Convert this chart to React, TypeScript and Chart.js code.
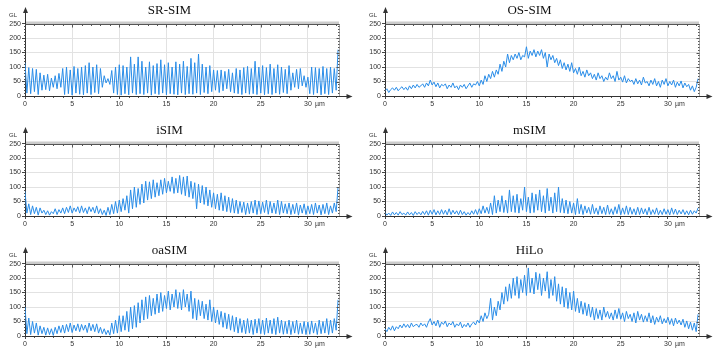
import React, { useEffect, useRef } from 'react';
import { Chart, registerables } from 'chart.js';

Chart.register(...registerables);

// Sample positions along the profile (µm), one every 0.2 µm
const POSITIONS_UM: number[] = Array.from({ length: 167 }, (_, i) => Math.round(i * 2) / 10);

const X_TICKS = [0, 5, 10, 15, 20, 25, 30];
const Y_TICKS = [0, 50, 100, 150, 200, 250];

const SR_SIM = [
  115, 10, 98, 8, 95, 15, 92, 5, 80, 20, 72,
  22, 75, 18, 62, 30, 70, 25, 78, 30, 95,
  5, 100, 8, 90, 3, 102, 10, 95, 6, 100,
  4, 105, 10, 115, 5, 100, 12, 108, 8, 95,
  30, 70, 45, 60, 40, 88, 10, 100, 5, 108,
  3, 105, 8, 100, 4, 135, 10, 110, 5, 135,
  8, 120, 5, 100, 10, 118, 3, 105, 8, 112,
  5, 125, 10, 108, 4, 115, 8, 100, 6, 118,
  4, 110, 10, 120, 5, 102, 8, 130, 6, 115,
  10, 145, 5, 110, 12, 100, 8, 105, 15, 90,
  20, 88, 12, 90, 18, 85, 25, 92, 15, 80,
  10, 95, 8, 90, 5, 98, 10, 102, 6, 95,
  8, 120, 5, 100, 10, 105, 4, 98, 8, 110,
  5, 95, 10, 108, 6, 100, 12, 92, 8, 105,
  20, 80, 30, 92, 25, 95, 35, 70, 30, 65,
  8, 100, 5, 98, 10, 95, 4, 102, 8, 95,
  5, 100, 10, 95, 20, 160,
];

const OS_SIM = [
  18, 25, 12, 22, 28, 20, 30, 18, 26, 32, 22,
  30, 20, 35, 25, 38, 28, 40, 30, 35, 42,
  30, 45, 35, 55, 38, 48, 32, 45, 28, 40,
  35, 42, 25, 38, 30, 45, 28, 35, 22, 38,
  30, 40, 25, 35, 45, 30, 42, 38, 50, 35,
  55, 40, 70, 50, 75, 60, 85, 65, 90, 75,
  110, 85, 120, 100, 145, 115, 140, 125, 145, 130,
  150, 125, 140, 135, 170, 130, 155, 140, 160, 135,
  155, 140, 160, 130, 150, 100, 145, 125, 140, 115,
  130, 105, 125, 95, 115, 90, 110, 85, 115, 80,
  95, 75, 100, 70, 85, 65, 90, 70, 80, 60,
  75, 55, 80, 60, 70, 50, 65, 55, 80, 60,
  70, 50, 85, 55, 65, 48, 70, 45, 60, 50,
  55, 40, 60, 42, 55, 38, 65, 45, 50, 35,
  55, 40, 60, 35, 50, 30, 55, 40, 60, 35,
  50, 38, 55, 30, 48, 35, 52, 28, 45, 32,
  40, 20, 35, 15, 30, 60,
];

const I_SIM = [
  85, 10, 42, 5, 35, 8, 30, 3, 28, 10, 20,
  5, 18, 3, 15, 8, 25, 5, 22, 10, 28,
  8, 30, 12, 35, 10, 28, 15, 32, 10, 35,
  12, 28, 8, 32, 15, 30, 10, 35, 8, 25,
  5, 20, 2, 30, 5, 40, 8, 50, 10, 55,
  15, 60, 20, 70, 10, 90, 25, 100, 30, 95,
  40, 110, 45, 120, 55, 118, 60, 125, 65, 115,
  70, 125, 75, 130, 80, 120, 85, 135, 78, 130,
  80, 140, 75, 135, 70, 138, 65, 120, 60, 115,
  25, 110, 45, 105, 40, 100, 35, 90, 30, 80,
  25, 75, 20, 80, 18, 70, 15, 65, 12, 60,
  10, 55, 8, 50, 12, 48, 5, 45, 8, 50,
  10, 55, 5, 52, 8, 48, 12, 55, 6, 50,
  10, 45, 8, 55, 5, 50, 10, 42, 8, 45,
  5, 40, 8, 45, 3, 38, 10, 42, 5, 35,
  8, 40, 5, 45, 10, 38, 4, 40, 8, 45,
  5, 35, 10, 45, 15, 100,
];

const M_SIM = [
  12, 3, 10, 2, 14, 4, 12, 3, 15, 5, 10,
  3, 14, 4, 12, 2, 15, 5, 13, 4, 16,
  5, 18, 3, 20, 6, 22, 4, 18, 5, 22,
  6, 20, 4, 25, 5, 20, 7, 18, 4, 20,
  5, 15, 3, 12, 4, 18, 6, 22, 5, 25,
  8, 35, 10, 30, 8, 45, 5, 70, 10, 55,
  15, 70, 12, 55, 10, 90, 15, 70, 12, 75,
  10, 60, 20, 100, 15, 65, 10, 80, 12, 75,
  20, 90, 15, 70, 10, 95, 18, 65, 10, 80,
  15, 100, 12, 60, 10, 55, 8, 50, 10, 45,
  5, 60, 8, 40, 5, 35, 10, 30, 6, 40,
  8, 28, 5, 35, 8, 30, 5, 38, 6, 25,
  5, 32, 8, 40, 4, 28, 6, 35, 5, 30,
  6, 25, 4, 30, 5, 28, 7, 25, 4, 30,
  5, 22, 6, 28, 4, 20, 5, 25, 6, 22,
  4, 28, 6, 24, 5, 20, 7, 22, 5, 18,
  4, 20, 6, 18, 10, 28,
];

const OA_SIM = [
  100, 8, 62, 5, 50, 10, 45, 3, 35, 8, 30,
  3, 28, 5, 25, 2, 30, 8, 35, 12, 38,
  10, 40, 15, 45, 12, 38, 18, 42, 15, 40,
  20, 38, 12, 45, 18, 40, 15, 42, 10, 30,
  8, 25, 5, 20, 3, 45, 8, 55, 10, 70,
  15, 70, 20, 85, 15, 100, 25, 105, 30, 115,
  45, 125, 55, 135, 60, 140, 70, 130, 75, 145,
  80, 150, 85, 140, 95, 155, 90, 145, 100, 160,
  95, 150, 90, 160, 100, 145, 85, 155, 60, 130,
  55, 125, 70, 120, 60, 110, 55, 125, 50, 100,
  45, 90, 40, 85, 30, 80, 25, 75, 20, 70,
  15, 65, 10, 60, 12, 55, 8, 60, 10, 55,
  5, 58, 10, 60, 8, 55, 5, 62, 10, 55,
  8, 60, 5, 65, 10, 55, 6, 50, 8, 55,
  5, 50, 10, 55, 6, 45, 8, 50, 5, 48,
  6, 52, 10, 45, 5, 55, 8, 50, 10, 60,
  5, 55, 10, 60, 20, 125,
];

const HILO = [
  25, 15, 30, 20, 35, 18, 32, 25, 38, 28, 42,
  30, 40, 28, 45, 32, 38, 40, 30, 45, 35,
  42, 30, 48, 60, 38, 50, 35, 55, 30, 48,
  40, 52, 32, 45, 38, 50, 30, 42, 35, 48,
  28, 40, 32, 45, 30, 42, 48, 38, 55, 45,
  70, 50, 80, 60, 75, 130, 55, 100, 70, 120,
  90, 150, 110, 170, 120, 180, 130, 200, 140, 205,
  130, 195, 150, 210, 140, 235, 150, 200, 145, 220,
  160, 215, 140, 200, 155, 222, 130, 195, 140, 205,
  120, 180, 110, 170, 100, 165, 95, 150, 90, 155,
  85, 130, 80, 120, 75, 115, 70, 110, 65, 100,
  55, 95, 60, 90, 55, 100, 65, 85, 60, 80,
  55, 90, 60, 95, 58, 80, 50, 85, 60, 75,
  50, 80, 45, 85, 55, 75, 48, 70, 50, 80,
  45, 70, 40, 65, 48, 70, 42, 60, 45, 65,
  40, 60, 35, 62, 42, 55, 38, 58, 30, 52,
  25, 48, 20, 45, 15, 75,
];

const TITLES = ['SR-SIM', 'OS-SIM', 'iSIM', 'mSIM', 'oaSIM', 'HiLo'];
const SERIES = [SR_SIM, OS_SIM, I_SIM, M_SIM, OA_SIM, HILO];

const X_MAX = 33.3;
const TICK_FONT = { family: "'Liberation Sans', Arial, sans-serif", size: 7 };

const decor = {
  id: 'decor',
  afterDraw(chart: any) {
    const { ctx, chartArea } = chart;
    const { left, right, top, bottom } = chartArea;
    const xs = chart.scales.x;
    const ys = chart.scales.y;
    const L = Math.round(left) + 0.5;
    const R = Math.round(right) + 0.5;
    const T = Math.round(top) + 0.5;
    const B = Math.round(bottom) + 0.5;
    ctx.save();
    // gray band along the top
    ctx.fillStyle = '#cbcbcb';
    ctx.fillRect(left, T - 3, right - left, 3);
    ctx.strokeStyle = '#555';
    ctx.lineWidth = 1;
    ctx.beginPath();
    ctx.moveTo(L, T);
    ctx.lineTo(R, T);
    ctx.stroke();
    // ticks along top and bottom every 1 µm
    ctx.beginPath();
    for (let v = 1; v <= 33; v++) {
      const px = Math.round(xs.getPixelForValue(v)) + 0.5;
      const len = v % 5 === 0 ? 3 : 1.5;
      ctx.moveTo(px, T);
      ctx.lineTo(px, T + len);
      if (v % 5 !== 0) {
        ctx.moveTo(px, B);
        ctx.lineTo(px, B + 1.5);
      }
    }
    // minor ticks along left and right every 10 GL
    for (let g = 10; g < 250; g += 10) {
      const py = Math.round(ys.getPixelForValue(g)) + 0.5;
      if (g % 50 !== 0) {
        ctx.moveTo(L, py);
        ctx.lineTo(L - 1.5, py);
      }
      ctx.moveTo(R, py);
      ctx.lineTo(R - (g % 50 === 0 ? 3 : 1.5), py);
    }
    ctx.stroke();
    // dotted right border
    ctx.setLineDash([1, 1]);
    ctx.beginPath();
    ctx.moveTo(R, T);
    ctx.lineTo(R, B);
    ctx.stroke();
    ctx.setLineDash([]);
    // x axis extension with arrow
    ctx.strokeStyle = '#333';
    ctx.fillStyle = '#333';
    ctx.beginPath();
    ctx.moveTo(L, B);
    ctx.lineTo(R + 11, B);
    ctx.stroke();
    ctx.beginPath();
    ctx.moveTo(R + 13, B);
    ctx.lineTo(R + 7, B - 2.5);
    ctx.lineTo(R + 7, B + 2.5);
    ctx.closePath();
    ctx.fill();
    // y axis extension with arrow
    ctx.beginPath();
    ctx.moveTo(L, T);
    ctx.lineTo(L, 10);
    ctx.stroke();
    ctx.beginPath();
    ctx.moveTo(L, 7);
    ctx.lineTo(L - 2.5, 13);
    ctx.lineTo(L + 2.5, 13);
    ctx.closePath();
    ctx.fill();
    // axis labels
    ctx.font = "6px 'Liberation Sans', Arial, sans-serif";
    ctx.fillStyle = '#333';
    ctx.textAlign = 'center';
    ctx.textBaseline = 'middle';
    ctx.fillText('GL', 13, 15);
    ctx.font = "7px 'Liberation Sans', Arial, sans-serif";
    ctx.textAlign = 'left';
    ctx.fillText('µm', xs.getPixelForValue(30) + 7, B + 7.5);
    ctx.restore();
  },
};

function Panel({ title, values, left, top }: { title: string; values: number[]; left: number; top: number }) {
  const ref = useRef<HTMLCanvasElement>(null);
  useEffect(() => {
    const chart = new Chart(ref.current as HTMLCanvasElement, {
      type: 'line',
      data: {
        datasets: [
          {
            data: values.map((v, i) => ({ x: POSITIONS_UM[i], y: v })),
            borderColor: '#2a8de8',
            borderWidth: 1,
            pointRadius: 0,
            tension: 0,
            fill: false,
          },
        ],
      },
      options: {
        responsive: false,
        animation: false,
        devicePixelRatio: 1,
        layout: { padding: { left: 0, right: 21, top: 0, bottom: 0 } },
        plugins: {
          legend: { display: false },
          tooltip: { enabled: false },
          title: {
            display: true,
            text: title,
            color: '#111',
            font: { family: "'Liberation Serif', 'Times New Roman', serif", size: 13, weight: 'normal' },
            padding: { top: 3, bottom: 5 },
          },
        },
        scales: {
          x: {
            type: 'linear',
            min: 0,
            max: X_MAX,
            afterBuildTicks: (s: any) => {
              s.ticks = X_TICKS.map((v) => ({ value: v }));
            },
            afterFit: (s: any) => {
              s.height = 21;
            },
            ticks: {
              font: TICK_FONT,
              color: '#333',
              padding: 1,
              maxRotation: 0,
              autoSkip: false,
            },
            grid: { color: '#e2e2e2', tickLength: 3, tickColor: '#444' },
            border: { display: true, color: '#333' },
          },
          y: {
            type: 'linear',
            min: 0,
            max: 250,
            afterBuildTicks: (s: any) => {
              s.ticks = Y_TICKS.map((v) => ({ value: v }));
            },
            afterFit: (s: any) => {
              s.width = 25;
            },
            ticks: { font: TICK_FONT, color: '#333', padding: 1 },
            grid: { color: '#e2e2e2', tickLength: 3, tickColor: '#444' },
            border: { display: true, color: '#333' },
          },
        },
      },
      plugins: [decor],
    } as any);
    return () => chart.destroy();
  }, [title, values]);
  return (
    <canvas
      ref={ref}
      width={360}
      height={117}
      style={{ position: 'absolute', left, top, width: 360, height: 117 }}
    />
  );
}

export default function App() {
  return (
    <div style={{ position: 'absolute', left: 0, top: 0, width: 721, height: 357, background: '#fff', overflow: 'hidden' }}>
      {TITLES.map((t, i) => (
        <Panel key={t} title={t} values={SERIES[i]} left={(i % 2) * 360} top={Math.floor(i / 2) * 120} />
      ))}
    </div>
  );
}
